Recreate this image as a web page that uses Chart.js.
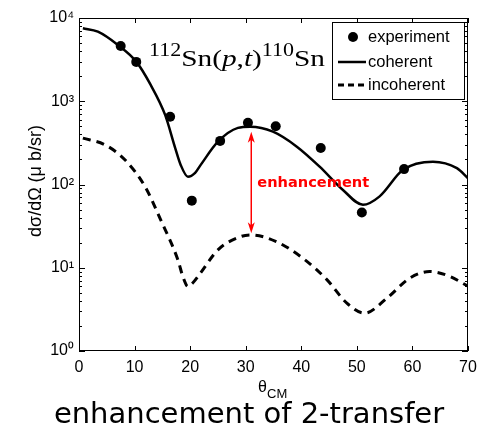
<!DOCTYPE html>
<html>
<head>
<meta charset="utf-8">
<script src="https://cdn.jsdelivr.net/npm/chart.js@4.4.1/dist/chart.umd.min.js"></script>
<style>
  html, body { margin: 0; padding: 0; background: #fff; }
  #wrap { width: 480px; height: 428px; }
</style>
</head>
<body>
<div id="wrap"><canvas id="xsec"></canvas></div>
<script>
// 112Sn(p,t)110Sn angular distribution, dσ/dΩ in μb/sr vs θ_CM in degrees
const expAngle = [7.5, 10.3, 16.4, 20.3, 25.4, 30.4, 35.4, 43.5, 50.9, 58.5];
const expValue = [4610, 2970, 650, 64, 334, 550, 500, 275, 46, 153];

const cohAngle = [0.7, 3.4, 7, 10.3, 12.9, 15.5, 17.3, 18.3, 19.6, 20.9, 21.9, 25, 28.6, 30.8, 34.9, 39.2, 43.3, 47.5, 51.1, 54.1, 58.3, 63.7, 68, 70];
const cohValue = [7520, 6850, 4740, 2990, 1570, 685, 276, 172, 124, 138, 172, 327, 479, 495, 431, 285, 164, 86, 57, 72, 150, 188, 157, 119];

const incAngle = [0.7, 4.7, 8.3, 11.9, 14.7, 17.8, 18.7, 19.6, 20.5, 21.9, 25, 29.1, 31, 35.5, 40.3, 44.6, 48.2, 51.4, 55.4, 59.5, 63.1, 66.7, 69.1, 70];
const incValue = [360, 299, 197, 94, 37.6, 12.4, 7.8, 5.96, 6.6, 8.7, 16.4, 23.7, 24.8, 20.6, 13, 7.2, 3.76, 2.85, 4.3, 7.5, 9.0, 7.9, 6.5, 6.0];

const xTicks = [0, 10, 20, 30, 40, 50, 60, 70];
const yTicks = [1, 10, 100, 1000, 10000];
const supDigits = ['⁰', '¹', '²', '³', '⁴'];

// enhancement arrow between the two curves
const arrowAngle = 31;
const arrowLow = 26;
const arrowHigh = 430;

const legendNames = ['experiment', 'coherent', 'incoherent'];

const pts = (xs, ys) => xs.map((v, i) => ({ x: v, y: ys[i] }));

// frame, inward ticks, labels and legend
const decor = {
  id: 'decor',
  afterDatasetsDraw(chart) {
    const { ctx, chartArea: a, scales: { x, y } } = chart;
    ctx.save();
    ctx.strokeStyle = '#000';
    ctx.lineWidth = 1;
    ctx.strokeRect(a.left + 0.5, a.top + 0.5, a.width - 1, a.height - 1);
    ctx.beginPath();
    xTicks.forEach(v => {
      const px = Math.round(x.getPixelForValue(v)) + 0.5;
      ctx.moveTo(px, a.bottom); ctx.lineTo(px, a.bottom - 5);
      ctx.moveTo(px, a.top); ctx.lineTo(px, a.top + 5);
    });
    for (let d = 0; d < 4; d++) {
      for (let m = 1; m <= 9; m++) {
        const v = m * Math.pow(10, d);
        const py = Math.round(y.getPixelForValue(v)) + 0.5;
        const len = m === 1 ? 6 : 3;
        ctx.moveTo(a.left, py); ctx.lineTo(a.left + len, py);
        ctx.moveTo(a.right, py); ctx.lineTo(a.right - len, py);
      }
    }
    ctx.stroke();

    // red double arrow
    const ax = x.getPixelForValue(arrowAngle);
    const yTop = y.getPixelForValue(arrowHigh);
    const yBot = y.getPixelForValue(arrowLow);
    ctx.strokeStyle = '#ff0000';
    ctx.fillStyle = '#ff0000';
    ctx.lineWidth = 1.5;
    ctx.beginPath();
    ctx.moveTo(ax, yTop + 6); ctx.lineTo(ax, yBot - 6);
    ctx.stroke();
    ctx.beginPath();
    ctx.moveTo(ax, yTop); ctx.lineTo(ax - 3.5, yTop + 11); ctx.lineTo(ax, yTop + 8); ctx.lineTo(ax + 3.5, yTop + 11);
    ctx.closePath(); ctx.fill();
    ctx.beginPath();
    ctx.moveTo(ax, yBot); ctx.lineTo(ax - 3.5, yBot - 11); ctx.lineTo(ax, yBot - 8); ctx.lineTo(ax + 3.5, yBot - 11);
    ctx.closePath(); ctx.fill();
    ctx.font = 'bold 14.6px "DejaVu Sans"';
    ctx.textBaseline = 'middle';
    ctx.textAlign = 'left';
    ctx.fillText('enhancement', ax + 6, 183);

    // reaction label
    const parts = [
      ['112', '18px "Liberation Serif"', -10],
      ['Sn(', '24px "Liberation Serif"', 0],
      ['p', 'italic 24px "Liberation Serif"', 0],
      [',', '24px "Liberation Serif"', 0],
      ['t', 'italic 24px "Liberation Serif"', 0],
      [')', '24px "Liberation Serif"', 0],
      ['110', '18px "Liberation Serif"', -10],
      ['Sn', '24px "Liberation Serif"', 0]
    ];
    let total = 0;
    parts.forEach(p => { ctx.font = p[1]; total += ctx.measureText(p[0]).width; });
    ctx.save();
    ctx.translate(149, 66);
    ctx.scale(176 / total, 1);
    ctx.fillStyle = '#000';
    ctx.textBaseline = 'alphabetic';
    let cx = 0;
    parts.forEach(p => {
      ctx.font = p[1];
      ctx.fillText(p[0], cx, p[2]);
      cx += ctx.measureText(p[0]).width;
    });
    ctx.restore();

    // legend box
    const lx = 332, ly = 22, lw = 132, lh = 77;
    ctx.fillStyle = '#fff';
    ctx.fillRect(lx, ly, lw, lh);
    ctx.strokeStyle = '#000';
    ctx.lineWidth = 1;
    ctx.strokeRect(lx + 0.5, ly + 0.5, lw, lh);
    ctx.fillStyle = '#000';
    ctx.font = '16.5px "Liberation Sans"';
    ctx.textBaseline = 'middle';
    const rows = [37, 62, 85];
    legendNames.forEach((t, i) => ctx.fillText(t, 368, rows[i]));
    ctx.beginPath(); ctx.arc(353, rows[0], 5, 0, Math.PI * 2); ctx.fill();
    ctx.lineWidth = 2.5;
    ctx.beginPath(); ctx.moveTo(338, rows[1]); ctx.lineTo(366, rows[1]); ctx.stroke();
    ctx.lineWidth = 3;
    ctx.setLineDash([6, 4]);
    ctx.beginPath(); ctx.moveTo(338, rows[2]); ctx.lineTo(366, rows[2]); ctx.stroke();
    ctx.setLineDash([]);
    ctx.restore();
  },
  afterDraw(chart) {
    const { ctx } = chart;
    ctx.save();
    ctx.fillStyle = '#000';
    // y axis title
    ctx.save();
    ctx.translate(36, 181);
    ctx.rotate(-Math.PI / 2);
    ctx.font = '18px "Liberation Sans"';
    ctx.textAlign = 'center';
    ctx.textBaseline = 'middle';
    ctx.fillText('dσ/dΩ (μ b/sr)', 0, 0);
    ctx.restore();
    // x axis title θ_CM
    ctx.textBaseline = 'alphabetic';
    ctx.textAlign = 'left';
    ctx.font = '16px "Liberation Sans"';
    ctx.fillText('θ', 258, 392);
    ctx.font = '13px "Liberation Sans"';
    ctx.fillText('CM', 267, 398);
    // caption
    ctx.font = '29px "DejaVu Sans"';
    ctx.textAlign = 'center';
    ctx.fillText('enhancement of 2-transfer', 249, 423);
    ctx.restore();
  }
};

new Chart(document.getElementById('xsec'), {
  type: 'line',
  data: {
    datasets: [
      {
        label: 'experiment',
        data: pts(expAngle, expValue),
        showLine: false,
        pointRadius: 5,
        pointBackgroundColor: '#000',
        pointBorderColor: '#000',
        pointBorderWidth: 0,
        clip: false
      },
      {
        label: 'coherent',
        data: pts(cohAngle, cohValue),
        borderColor: '#000',
        borderWidth: 2.5,
        pointRadius: 0,
        cubicInterpolationMode: 'monotone'
      },
      {
        label: 'incoherent',
        data: pts(incAngle, incValue),
        borderColor: '#000',
        borderWidth: 3,
        borderDash: [8, 6],
        pointRadius: 0,
        cubicInterpolationMode: 'monotone'
      }
    ]
  },
  options: {
    responsive: true,
    maintainAspectRatio: false,
    animation: false,
    layout: { padding: { top: 18, right: 12, left: 0, bottom: 0 } },
    plugins: { legend: { display: false }, tooltip: { enabled: false } },
    scales: {
      x: {
        type: 'linear',
        min: 0,
        max: 70,
        grid: { display: false, drawTicks: false },
        border: { display: false },
        afterBuildTicks: s => { s.ticks = xTicks.map(v => ({ value: v })); },
        afterFit: s => { s.height = 77; s.paddingLeft = 0; s.paddingRight = 0; },
        ticks: { color: '#000', padding: 7, font: { family: 'Liberation Sans', size: 16 } }
      },
      y: {
        type: 'logarithmic',
        min: 1,
        max: 10000,
        grid: { display: false, drawTicks: false },
        border: { display: false },
        afterBuildTicks: s => { s.ticks = yTicks.map(v => ({ value: v })); },
        afterFit: s => { s.width = 79; s.paddingTop = 0; s.paddingBottom = 0; },
        ticks: {
          color: '#000',
          padding: 5,
          font: { family: 'Liberation Sans', size: 16 },
          callback: v => '10' + supDigits[Math.round(Math.log10(v))]
        }
      }
    }
  },
  plugins: [decor]
});
</script>
</body>
</html>
